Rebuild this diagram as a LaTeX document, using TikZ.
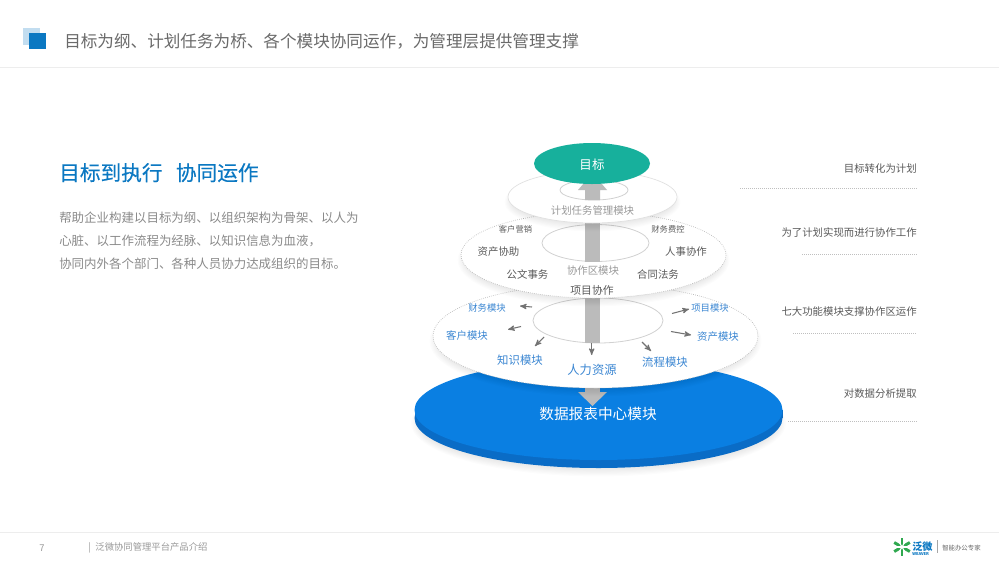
\documentclass[tikz,border=0pt]{standalone}
\usepackage{xcolor}
\usepackage{fontspec}
\setmainfont{Noto Sans CJK SC}
\newfontfamily\headfont[FakeBold=.35]{Noto Sans CJK SC}
\usetikzlibrary{arrows}
\definecolor{cTitle}{HTML}{6A6A6A}
\definecolor{cHead}{HTML}{0B78C2}
\definecolor{cPara}{HTML}{8A8A8A}
\definecolor{cNote}{HTML}{5A5A5A}
\definecolor{cGoal}{HTML}{17B09C}
\definecolor{cBase}{HTML}{0A7FE2}
\definecolor{cSide}{HTML}{0A6CC6}
\definecolor{cBar}{HTML}{BBBBBB}
\definecolor{cMod}{HTML}{3A86D2}
\definecolor{cLeaf}{HTML}{2FA84F}
\tikzset{
 txt/.style={inner sep=0, yshift=-.5pt, font=\fontsize{#1}{#1}\selectfont},
 darklabel/.style={txt=7.8pt, text=cNote},
 greylabel/.style={txt=7.8pt, text=black!40},
 bluelabel/.style={txt=#1, text=cMod},
 note/.style={txt=7.8pt, text=cNote, anchor=east},
 noteline/.style={draw=black!25, densely dotted, line width=.5pt},
 layer/.style={fill=white, draw=black!28, densely dotted, line width=.5pt},
 hole/.style={fill=white, draw=black!18, line width=.6pt},
 smallarrow/.style={draw=black!55, line width=.8pt, ->, >=stealth'},
}
% soft shadow below an ellipse: x, y, x radius, y radius
\newcommand{\softshadow}[4]{
 \foreach \g in {1,...,7} {
  \fill[black, opacity=.01] (#1,#2+5) ellipse [x radius=#3-5+\g*1.2, y radius=#4-5+\g*1.2];
 }
}

\begin{document}
\begin{tikzpicture}[x=.75pt, y=-.75pt]
\useasboundingbox[fill=white] (0,0) rectangle (999,561);

% header
\fill[cHead!25] (23,28) rectangle (40,45);
\fill[cHead] (29,33) rectangle (46,49);
\node[txt=12.45pt, text=cTitle, anchor=west] (title) at (64,41) {目标为纲、计划任务为桥、各个模块协同运作，为管理层提供管理支撑};
\draw[black!7] (0,67) -- (999,67);

% left text
\node[txt=15.5pt, text=cHead, anchor=west] (head) at (59,172) {\headfont 目标到执行\hspace{10pt}协同运作};
\node[txt=9.35pt, text=cPara, anchor=west] (para1) at (59,217) {帮助企业构建以目标为纲、以组织架构为骨架、以人为};
\node[txt=9.35pt, text=cPara, anchor=west] (para2) at (59,240) {心脏、以工作流程为经脉、以知识信息为血液，};
\node[txt=9.35pt, text=cPara, anchor=west] (para3) at (59,263) {协同内外各个部门、各种人员协力达成组织的目标。};

% base disc
\softshadow{598.5}{418}{184}{50}
\fill[cSide] (598.5,418) ellipse [x radius=184, y radius=50];
\fill[cSide] (414.5,410) rectangle (782.5,418);
\fill[cBase] (598.5,410) ellipse [x radius=184, y radius=50];
\fill[cBar] (585,380) rectangle (600,392);
\fill[cBar] (578,392) -- (607,392) -- (592.5,406) -- cycle;
\node[txt=11pt, text=white] (base) at (598,413) {数据报表中心模块};

% third layer
\softshadow{595.5}{336}{162.5}{52}
\draw[layer] (595.5,336) ellipse [x radius=162.5, y radius=52];
\draw[hole] (598,320.5) ellipse [x radius=65, y radius=22.5];
\fill[cBar] (585,285) rectangle (600,343);
\node[bluelabel=7pt] (finance) at (487,307) {财务模块};
\node[bluelabel=7pt] (project) at (710,307) {项目模块};
\node[bluelabel=7.8pt] (client) at (467,335) {客户模块};
\node[bluelabel=7.8pt] (asset) at (718,336) {资产模块};
\node[bluelabel=8.55pt] (know) at (520,359) {知识模块};
\node[bluelabel=8.55pt] (flow) at (665,362) {流程模块};
\node[bluelabel=9.2pt] (hr) at (592,369) {人力资源};
\coordinate (s1) at (532,307); \coordinate (e1) at (520,306);
\coordinate (s2) at (521,326.5); \coordinate (e2) at (508,329.5);
\coordinate (s3) at (544,337); \coordinate (e3) at (535,346);
\coordinate (s4) at (591.7,343); \coordinate (e4) at (591.7,355);
\coordinate (s5) at (642,342); \coordinate (e5) at (651,351);
\coordinate (s6) at (671,331.5); \coordinate (e6) at (691,335);
\coordinate (s7) at (672,313.5); \coordinate (e7) at (689,309);
\foreach \i in {1,...,7} {
 \draw[smallarrow] (s\i) -- (e\i);
}

% second layer
\softshadow{593.5}{255}{132.5}{43}
\draw[layer] (593.5,255) ellipse [x radius=132.5, y radius=43];
\draw[hole] (595.5,243) ellipse [x radius=53.5, y radius=18.5];
\fill[cBar] (585,210) rectangle (600,261.5);
\node[txt=6.2pt, text=cNote] (sales) at (515.5,229) {客户营销};
\node[txt=6.2pt, text=cNote] (cost) at (668,229) {财务费控};
\node[darklabel] (assist) at (498.5,251) {资产协助};
\node[darklabel] (staff) at (686,251) {人事协作};
\node[darklabel] (doc) at (527.5,274) {公文事务};
\node[darklabel] (law) at (658,274) {合同法务};
\node[greylabel] (work) at (593,270) {协作区模块};
\node[txt=8.1pt, text=cNote] (proj) at (592,290) {项目协作};

% first layer
\softshadow{592.5}{197}{84.5}{26}
\draw[layer, draw=black!12, solid] (592.5,197) ellipse [x radius=84.5, y radius=26];
\draw[hole] (594,190) ellipse [x radius=34, y radius=10];
\fill[cBar] (585,200) -- (585,190) -- (578,190) -- (590,176) -- (595,176) -- (607,190) -- (600,190) -- (600,200) -- cycle;
\node[greylabel] (plan) at (592.5,210) {计划任务管理模块};

% goal
\fill[cGoal] (592,163.5) ellipse [x radius=58, y radius=20.5];
\node[txt=9.4pt, text=white] (goal) at (592,164) {目标};

% right notes
\node[note] (note1) at (917,168) {目标转化为计划};
\node[note] (note2) at (917,232) {为了计划实现而进行协作工作};
\node[note] (note3) at (917,311) {七大功能模块支撑协作区运作};
\node[note] (note4) at (917,393) {对数据分析提取};
\draw[noteline] (740,188.5) -- (917,188.5);
\draw[noteline] (802,254) -- (917,254);
\draw[noteline] (793,333) -- (917,333);
\draw[noteline] (788,421) -- (917,421);

% footer
\draw[black!7] (0,532) -- (999,532);
\node[txt=7pt, text=black!40] (page) at (42,547) {7};
\node[txt=7pt, text=black!40, anchor=west] (foot) at (88,547.5) {|\hspace{3.5pt}泛微协同管理平台产品介绍};

% logo
\foreach \a in {0,60,120} {
 \draw[cLeaf, line width=2.2pt, rotate around={\a:(902,547)}] (902,538) -- (902,556);
}
\foreach \a in {30,90,150} {
 \draw[white, line width=.8pt, rotate around={\a:(902,547)}] (902,537) -- (902,557);
}
\node[txt=7.6pt, text=cHead, anchor=west] (brand) at (912,546) {\bfseries 泛微};
\node[txt=3pt, text=cHead, anchor=west] (weaver) at (912,553.5) {\bfseries WEAVER};
\draw[black!35] (937,540) -- (937,553);
\node[txt=4.8pt, text=black!60, anchor=west] (slogan) at (942,547) {智能办公专家};
\end{tikzpicture}
\end{document}
